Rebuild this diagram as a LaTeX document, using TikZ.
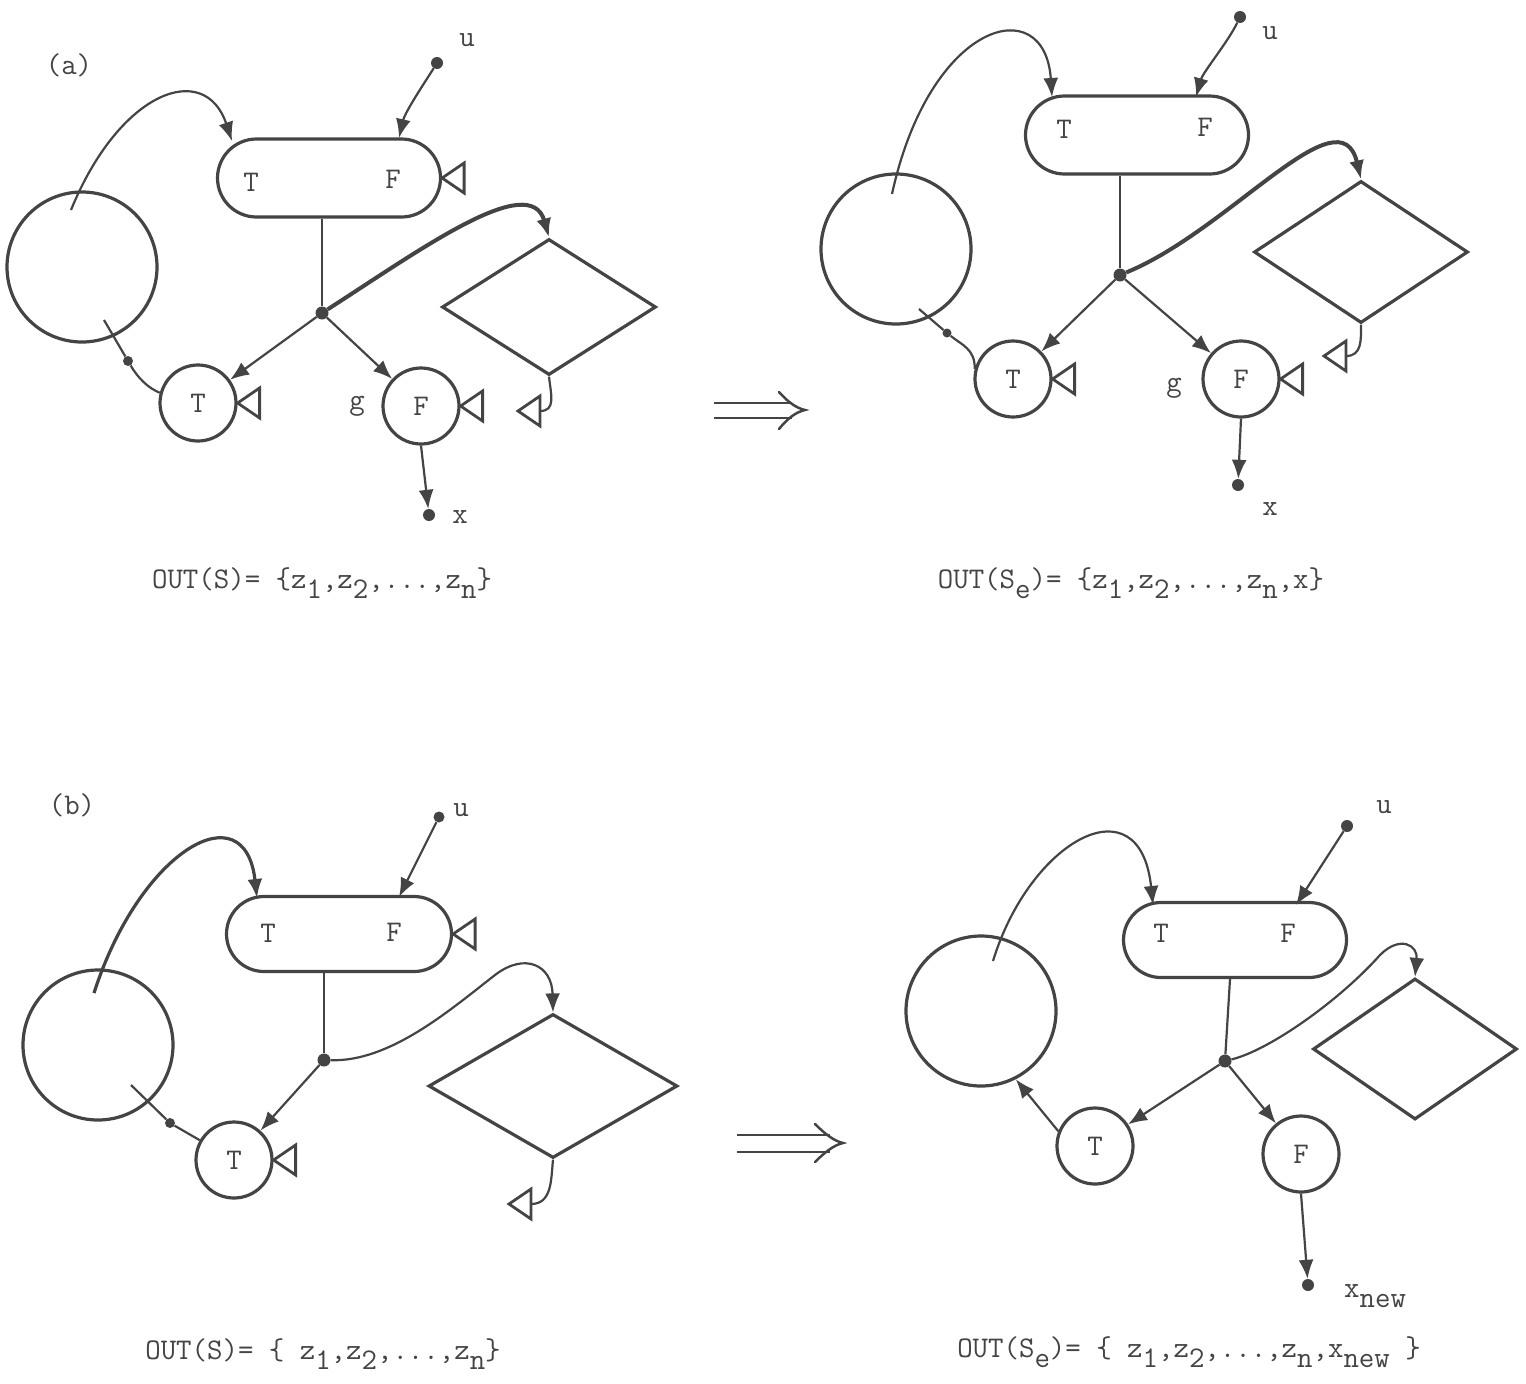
\documentclass[tikz,border=0pt]{standalone}
\usepackage{fontspec}
\usetikzlibrary{shapes.misc,shapes.geometric,arrows.meta,calc}
\definecolor{ink}{HTML}{444444}
\newcommand{\lowr}[1]{\raisebox{-10pt}{#1}}
\begin{document}
\begin{tikzpicture}[x=1pt,y=-1pt,
  every node/.style={font=\ttfamily\fontsize{30}{36}\selectfont, text=ink},
  outline/.style={draw=ink, line width=3.2pt},
  pill/.style={outline, rounded rectangle, minimum width=223pt, minimum height=78pt, inner sep=0pt},
  bigring/.style={outline, circle, minimum size=150pt, inner sep=0pt},
  ring/.style={outline, circle, minimum size=76pt, inner sep=0pt},
  rhomb/.style={outline, diamond, inner sep=0pt},
  txt/.style={inner sep=0pt},
  blob/.style={circle, fill=ink, inner sep=0pt, minimum size=#1},
  blob/.default=13pt,
  wire/.style={draw=ink, line width=2.2pt},
  heavy/.style={draw=ink, line width=4pt},
  tip/.style={-{Latex[length=19pt,width=15pt]}},
  exitmark/.pic={\draw[draw=ink,line width=2.8pt,line join=miter] (0,0) -- (22,-15) -- (22,15) -- cycle;},
]
\useasboundingbox (0,0) rectangle (1526,1384);

% ================= (a) before =================
\node[txt] (labA) at (69,65) {(a)};
\node[pill] (pA) at (329,178) {};
\node[txt] (pAT) at (251,182) {T};
\node[txt] (pAF) at (393,179) {F};
\node[bigring] (cA) at (82,267) {};
\node[rhomb, minimum width=214pt, minimum height=136pt] (dA) at (549,307) {};
\node[ring] (tA) at (198,403) {T};
\node[ring] (fA) at (421,406) {F};
\node[txt] (gA) at (357,406) {g};
\node[blob] (jA) at (322,313) {};
\node[blob=12pt] (uA) at (437,63) {};
\node[txt] (uAl) at (467,40) {u};
\node[blob=12pt] (xA) at (429,515) {};
\node[txt] (xAl) at (460,517) {x};
\node[blob=10pt] (kA) at (128,361) {};
\coordinate (cAup) at (71,210);
\coordinate (cAdn) at (104,320);
\coordinate (pAin) at (232,141);
\coordinate (pAu) at (399,138);
\coordinate (eA) at (518,411);

\draw[wire,tip] (uA) .. controls (425,82) and (405,112) .. (pAu);
\draw[wire,tip] (cAup) .. controls (120,90) and (205,60) .. (pAin);
\draw[wire] (pA.south -| jA) -- (jA);
\draw[heavy,tip] (jA) .. controls (420,250) and (530,170) .. (dA.north);
\draw[wire,tip] (jA) -- (tA);
\draw[wire,tip] (jA) -- (fA);
\draw[wire] (cAdn) -- (kA) .. controls (138,378) and (148,388) .. (tA.165);
\draw[wire,tip] (fA.south) -- (xA);
\draw[wire] (dA.south) .. controls (551,395) and (556,411) .. ($(eA)+(22,0)$);
\pic at (eA) {exitmark};
\pic at (pA.east) {exitmark};
\pic at (tA.east) {exitmark};
\pic at (fA.east) {exitmark};
\node[txt, anchor=base] (capA) at (322,588) {OUT(S)= \{z\lowr{1},z\lowr{2},...,z\lowr{n}\}};

% ================= (a) after =================
\node[pill] (pB) at (1137,135) {};
\node[txt] (pBT) at (1064,129) {T};
\node[txt] (pBF) at (1205,127) {F};
\node[bigring] (cB) at (896,249) {};
\node[rhomb, minimum width=214pt, minimum height=142pt] (dB) at (1361,252) {};
\node[ring] (tB) at (1013,379) {T};
\node[ring] (fB) at (1241,379) {F};
\node[txt] (gB) at (1174,388) {g};
\node[blob] (jB) at (1120,275) {};
\node[blob=12pt] (uB) at (1240,17) {};
\node[txt] (uBl) at (1270,33) {u};
\node[blob=12pt] (xB) at (1238,485) {};
\node[txt] (xBl) at (1270,509) {x};
\node[blob=9pt] (kB) at (947,333) {};
\coordinate (cBup) at (892,194);
\coordinate (cBdn) at (919,309);
\coordinate (pBin) at (1052,97);
\coordinate (pBu) at (1196,97);
\coordinate (eB) at (1324,356);

\draw[wire,tip] (uB) .. controls (1228,42) and (1203,72) .. (pBu);
\draw[wire,tip] (cBup) .. controls (930,20) and (1045,-10) .. (pBin);
\draw[wire] (pB.south -| jB) -- (jB);
\draw[heavy,tip] (jB) .. controls (1230,230) and (1340,90) .. (dB.north);
\draw[wire,tip] (jB) -- (tB);
\draw[wire,tip] (jB) -- (fB);
\draw[wire] (cBdn) -- (kB) .. controls (962,345) and (975,349) .. (tB.165);
\draw[wire,tip] (fB.south) -- (xB);
\draw[wire] (dB.south) .. controls (1361,340) and (1362,356) .. ($(eB)+(22,0)$);
\pic at (eB) {exitmark};
\pic at (tB.east) {exitmark};
\pic at (fB.east) {exitmark};
\node[txt, anchor=base] (capB) at (1131,588) {OUT(S\lowr{e})= \{z\lowr{1},z\lowr{2},...,z\lowr{n},x\}};

% ================= (b) before =================
\node[txt] (labC) at (72,805) {(b)};
\node[pill, minimum width=225pt, minimum height=75pt] (pC) at (339,934) {};
\node[txt] (pCT) at (268,933) {T};
\node[txt] (pCF) at (394,932) {F};
\node[bigring] (cC) at (98,1045) {};
\node[rhomb, minimum width=249pt, minimum height=144pt] (dC) at (553,1086) {};
\node[ring] (tC) at (234,1160) {T};
\node[blob] (jC) at (324,1060) {};
\node[blob=11pt] (uC) at (439,817) {};
\node[txt] (uCl) at (461,810) {u};
\node[blob=10pt] (kC) at (170,1123) {};
\coordinate (cCup) at (94,993);
\coordinate (cCdn) at (131,1085);
\coordinate (pCin) at (257,898);
\coordinate (pCu) at (399,897);
\coordinate (mC) at (495,975);
\coordinate (eC) at (509,1204);

\draw[wire,tip] (uC) -- (pCu);
\draw[outline,tip] (cCup) .. controls (140,850) and (245,790) .. (pCin);
\draw[wire] (pC.south -| jC) -- (jC);
\draw[wire,tip] (jC) .. controls (390,1062) and (450,1010) .. (mC)
                     .. controls (525,952) and (552,965) .. (dC.north);
\draw[wire,tip] (jC) -- (tC);
\draw[wire] (cCdn) -- (kC) -- (tC);
\draw[wire] (dC.south) .. controls (551,1180) and (552,1204) .. ($(eC)+(22,0)$);
\pic at (eC) {exitmark};
\pic at (pC.east) {exitmark};
\pic at (tC.east) {exitmark};
\node[txt, anchor=base] (capC) at (323,1359) {OUT(S)= \{ z\lowr{1},z\lowr{2},...,z\lowr{n}\}};

% ================= (b) after =================
\node[pill, minimum height=75pt] (pD) at (1235,940) {};
\node[txt] (pDT) at (1161,933) {T};
\node[txt] (pDF) at (1288,933) {F};
\node[bigring] (cD) at (981,1011) {};
\node[rhomb, minimum width=204pt, minimum height=141pt] (dD) at (1415,1049) {};
\node[ring] (tD) at (1095,1146) {T};
\node[ring] (fD) at (1301,1154) {F};
\node[blob] (jD) at (1225,1061) {};
\node[blob=12pt] (uD) at (1347,826) {};
\node[txt] (uDl) at (1384,807) {u};
\node[blob=12pt] (xD) at (1308,1285) {};
\node[txt, anchor=base west] (xDl) at (1344,1297) {x\lowr{new}};
\coordinate (cDup) at (993,961);
\coordinate (pDin) at (1153,905);
\coordinate (pDu) at (1296,905);
\coordinate (mD) at (1380,955);

\draw[wire,tip] (uD) -- (pDu);
\draw[wire,tip] (cDup) .. controls (1030,840) and (1140,780) .. (pDin);
\draw[wire] ($(pD.south)+(-5,0)$) -- (jD);
\draw[wire,tip] (jD) .. controls (1270,1050) and (1340,1000) .. (mD)
                     .. controls (1400,935) and (1418,945) .. (dD.north);
\draw[wire,tip] (jD) -- (tD);
\draw[wire,tip] (jD) -- (fD);
\draw[wire,tip] (tD.158) -- (cD.-63);
\draw[wire,tip] (fD.south) -- (xD);
\node[txt, anchor=base] (capD) at (1189,1357) {OUT(S\lowr{e})= \{ z\lowr{1},z\lowr{2},...,z\lowr{n},x\lowr{new} \}};

% ================= transformation arrows =================
\coordinate (iAt) at (805,410);
\draw[draw=ink, line width=2.5pt] (714,403) -- (792,403) (714,418) -- (792,418);
\draw[draw=ink, line width=2.5pt, line cap=round] (779,392) .. controls (788,402) and (796,408) .. (iAt)
      .. controls (796,412) and (788,418) .. (779,429);
\coordinate (iBt) at (843,1143);
\draw[draw=ink, line width=2.5pt] (737,1135) -- (830,1135) (737,1152) -- (830,1152);
\draw[draw=ink, line width=2.5pt, line cap=round] (815,1124) .. controls (825,1134) and (834,1141) .. (iBt)
      .. controls (834,1145) and (825,1152) .. (815,1162);
\end{tikzpicture}
\end{document}
